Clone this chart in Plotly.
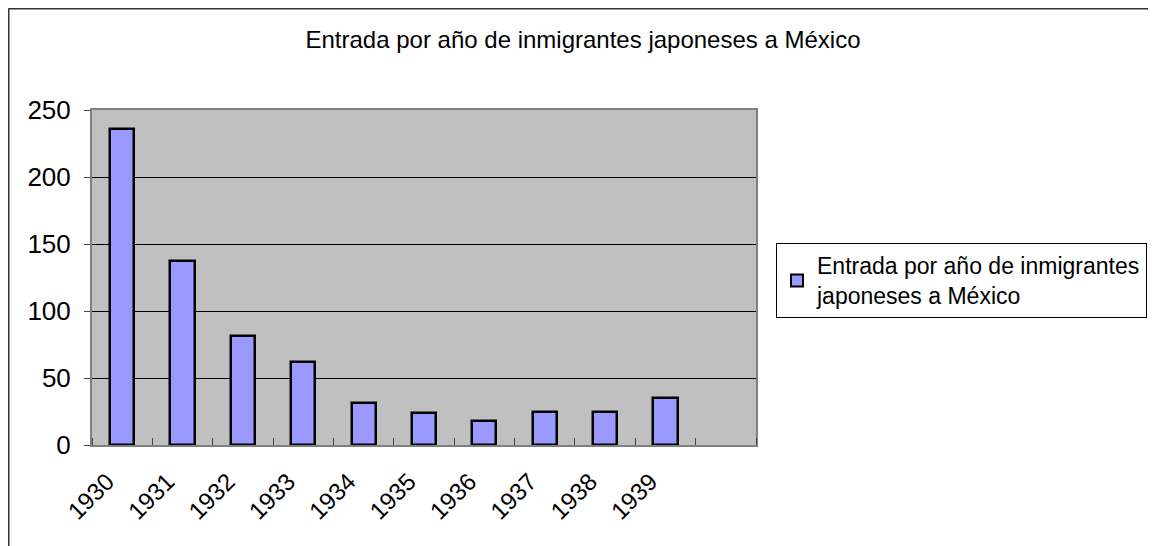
import plotly.graph_objects as go

years = [1930, 1931, 1932, 1933, 1934, 1935, 1936, 1937, 1938, 1939]
tick_labels = ["1930", "1931", "1932", "1933", "1934", "1935", "1936", "1937", "1938", "1939"]
entries = [236, 137, 81, 62, 31, 24, 18, 25, 25, 35]
series_name = "Entrada por año de inmigrantes<br>japoneses a México"
title_text = "Entrada por año de inmigrantes japoneses a México"

FONT = "Liberation Sans, Arial, sans-serif"

# page body has an 8px margin, so the figure is drawn 8px smaller and positions are offset
W, H = 1148, 538
L, R, T, B = 84, 400, 102, 101
PW = W - L - R
PH = H - T - B

fig = go.Figure()
fig.add_trace(go.Bar(
    x=years, y=entries, name=series_name, width=0.4,
    marker=dict(color="#9999FF", line=dict(color="black", width=2.5)),
    showlegend=True,
))

fig.update_layout(
    width=W, height=H,
    margin=dict(l=L, r=R, t=T, b=B, autoexpand=False),
    paper_bgcolor="white", plot_bgcolor="#C0C0C0",
    font=dict(family=FONT, size=22, color="black"),
    title=dict(text=title_text, x=575 / W, xanchor="center", y=1 - 32 / H, yanchor="middle",
               font=dict(family=FONT, size=24, color="black")),
    bargap=0,
    showlegend=True,
    legend=dict(x=(768 - L) / PW, xanchor="left", y=(H - B - 235) / PH, yanchor="top",
                bordercolor="black", borderwidth=1, bgcolor="white",
                font=dict(family=FONT, size=23, color="black"),
                itemsizing="constant"),
    shapes=[
        dict(type="line", xref="paper", yref="paper",
             x0=(0.5 - L) / PW, x1=(W + 20 - L) / PW,
             y0=(H - B - 0.5) / PH, y1=(H - B - 0.5) / PH,
             line=dict(color="#333333", width=2)),
        dict(type="line", xref="paper", yref="paper",
             x0=(0.5 - L) / PW, x1=(0.5 - L) / PW,
             y0=(H - B - 0.5) / PH, y1=-(B + 20) / PH,
             line=dict(color="#333333", width=2)),
    ],
)

fig.update_xaxes(
    range=[1929.5, 1940.5], tickmode="array", tickvals=years, ticktext=tick_labels,
    tickangle=-45, ticks="", showgrid=False, zeroline=False,
    showline=True, linecolor="#808080", linewidth=2, mirror=True,
    tickfont=dict(family=FONT, size=24, color="black"),
    ticklabelstandoff=11, ticklabelshift=-15,
    minor=dict(tickmode="linear", tick0=1929.5, dtick=1, ticks="inside", ticklen=7,
               tickcolor="#444444", tickwidth=1, showgrid=False),
)
fig.update_yaxes(
    range=[0, 250], tickmode="linear", tick0=0, dtick=50,
    ticks="outside", ticklen=6, tickcolor="#444444", tickwidth=1,
    showgrid=True, gridcolor="black", gridwidth=1, zeroline=False,
    showline=True, linecolor="#808080", linewidth=2, mirror=True,
    tickfont=dict(family=FONT, size=26, color="black"),
    ticklabelstandoff=8,
)

fig.write_html("out.html")
